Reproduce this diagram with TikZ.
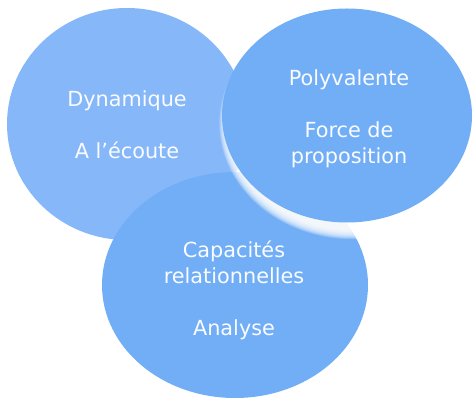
\documentclass[tikz,border=0pt]{standalone}
\usepackage{fontspec}
\setmainfont{DejaVu Sans}
\usetikzlibrary{shapes.geometric}
\definecolor{lightblob}{RGB}{134,183,249}
\definecolor{blob}{RGB}{113,174,246}
\definecolor{txt}{RGB}{250,252,255}
\tikzset{
  blobshape/.style={ellipse, inner sep=0pt, draw=none},
  label text/.style={anchor=base, text=txt, font=\fontsize{20.8}{26}\selectfont, inner sep=0pt}
}
\begin{document}
\begin{tikzpicture}[x=1pt,y=-1pt]
\useasboundingbox (0,0) rectangle (473,398);
% left ellipse
\node[blobshape, fill=lightblob, minimum width=240pt, minimum height=232pt] (L) at (127,124) {};
% bottom ellipse
\node[blobshape, fill=blob, minimum width=266pt, minimum height=226pt] (B) at (235,285) {};
% soft white glow of the right ellipse
\foreach \i in {0,...,13}{
  \fill[white, opacity=0.18] (353,123.5) ellipse [x radius={124+0.75*\i}, y radius={106+0.75*\i}];
}
% right ellipse
\node[blobshape, fill=blob, minimum width=250pt, minimum height=214pt] (R) at (347,115.5) {};
% texts
\node[label text] (l1) at (127,107) {Dynamique};
\node[label text] (l2) at (127,159) {A l’écoute};
\node[label text] (r1) at (349,86) {Polyvalente};
\node[label text] (r2) at (349,137.5) {Force de};
\node[label text] (r3) at (349,163.5) {proposition};
\node[label text] (b1) at (234,257.5) {Capacités};
\node[label text] (b2) at (234,283.3) {relationnelles};
\node[label text] (b3) at (234,335) {Analyse};
\end{tikzpicture}
\end{document}
